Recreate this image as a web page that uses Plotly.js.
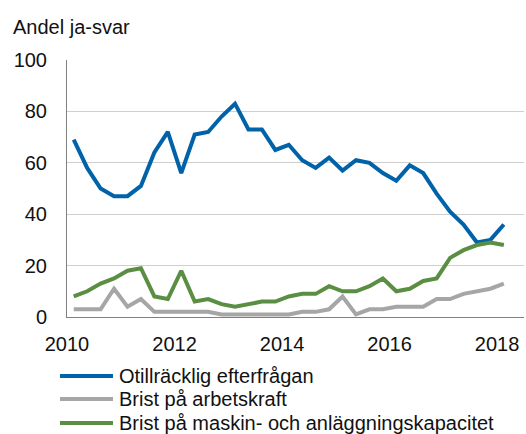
<!DOCTYPE html>
<html>
<head>
<meta charset="utf-8">
<script src="https://cdn.plot.ly/plotly-3.0.1.min.js"></script>
<style>html,body{margin:0;padding:0;background:#fff;}#chart{width:526px;height:434px;}</style>
</head>
<body>
<div id="chart"></div>
<script>
// Quarterly survey, 2010 K1 – 2018 K1
const quarters = [
  "2010K1","2010K2","2010K3","2010K4","2011K1","2011K2","2011K3","2011K4",
  "2012K1","2012K2","2012K3","2012K4","2013K1","2013K2","2013K3","2013K4",
  "2014K1","2014K2","2014K3","2014K4","2015K1","2015K2","2015K3","2015K4",
  "2016K1","2016K2","2016K3","2016K4","2017K1","2017K2","2017K3","2017K4",
  "2018K1"
];
const otillracklig = [69,58,50,47,47,51,64,72,56,71,72,78,83,73,73,65,67,61,58,62,57,61,60,56,53,59,56,48,41,36,29,30,36];
const arbetskraft  = [3,3,3,11,4,7,2,2,2,2,2,1,1,1,1,1,1,2,2,3,8,1,3,3,4,4,4,7,7,9,10,11,13];
const maskin       = [8,10,13,15,18,19,8,7,18,6,7,5,4,5,6,6,8,9,9,12,10,10,12,15,10,11,14,15,23,26,28,29,28];

const seriesNames = ["Otillräcklig efterfrågan","Brist på arbetskraft","Brist på maskin- och anläggningskapacitet"];
const seriesColors = ["#0062a8","#a6a6a6","#5a8e42"];
const yTitle = "Andel ja-svar";
const xTicks = [2010,2012,2014,2016,2018];
const yTicks = [0,20,40,60,80,100];

// quarter label -> decimal year at mid-quarter
const xs = quarters.map(q => {
  const y = parseInt(q.slice(0,4),10), k = parseInt(q.slice(5),10);
  return y + (k-1)/4 + 0.125;
});

const FONT = "Liberation Sans, Arial, Helvetica, sans-serif";
const data = [otillracklig, arbetskraft, maskin].map((vals,i)=>({
  x: xs, y: vals, type: "scatter", mode: "lines", name: seriesNames[i],
  line: {color: seriesColors[i], width: 4}, showlegend: false, hoverinfo: "skip"
}));

// custom legend (long line samples)
const legendRowsPx = [376, 399, 423];
const plotTop = 60, plotBottom = 317, plotLeft = 67, plotRight = 524;
const ph = plotBottom - plotTop, pw = plotRight - plotLeft;
const shapes = [], annotations = [];
seriesNames.forEach((nm,i)=>{
  const yp = (plotBottom - legendRowsPx[i]) / ph;
  shapes.push({type:"line", xref:"paper", yref:"paper",
    x0:(60-plotLeft)/pw, x1:(113-plotLeft)/pw, y0:yp, y1:yp,
    line:{color:seriesColors[i], width:4}});
  annotations.push({xref:"paper", yref:"paper", x:(117-plotLeft)/pw, y:yp,
    xanchor:"left", yanchor:"middle", text:nm, showarrow:false,
    font:{family:FONT, size:20, color:"#111"}});
});
annotations.push({xref:"paper", yref:"paper", x:(11-plotLeft)/pw, y:1+(plotTop-27)/ph,
  xanchor:"left", yanchor:"middle", text:yTitle, showarrow:false,
  font:{family:FONT, size:20, color:"#111"}});

const layout = {
  width: 526, height: 434,
  margin: {l: plotLeft, r: 526-plotRight, t: plotTop, b: 434-plotBottom, pad: 0},
  paper_bgcolor: "#fff", plot_bgcolor: "#fff",
  font: {family: FONT, size: 20, color: "#111"},
  showlegend: false,
  xaxis: {
    range: [2010, 2018.5], tickvals: xTicks, ticktext: xTicks.map(String),
    showgrid: false, zeroline: false, showline: true, linecolor: "#808080", linewidth: 1,
    ticks: "", ticklabelstandoff: 9, tickfont: {family: FONT, size: 20, color: "#111"},
    fixedrange: true
  },
  yaxis: {
    range: [0, 100], tickvals: yTicks, ticktext: yTicks.map(String),
    showgrid: true, gridcolor: "#cfcfcf", gridwidth: 1.2, zeroline: false,
    showline: true, linecolor: "#808080", linewidth: 1,
    ticks: "", ticklabelstandoff: 15, tickfont: {family: FONT, size: 20, color: "#111"},
    fixedrange: true
  },
  shapes: shapes, annotations: annotations
};
Plotly.newPlot("chart", data, layout, {displayModeBar: false, staticPlot: true});
</script>
</body>
</html>
